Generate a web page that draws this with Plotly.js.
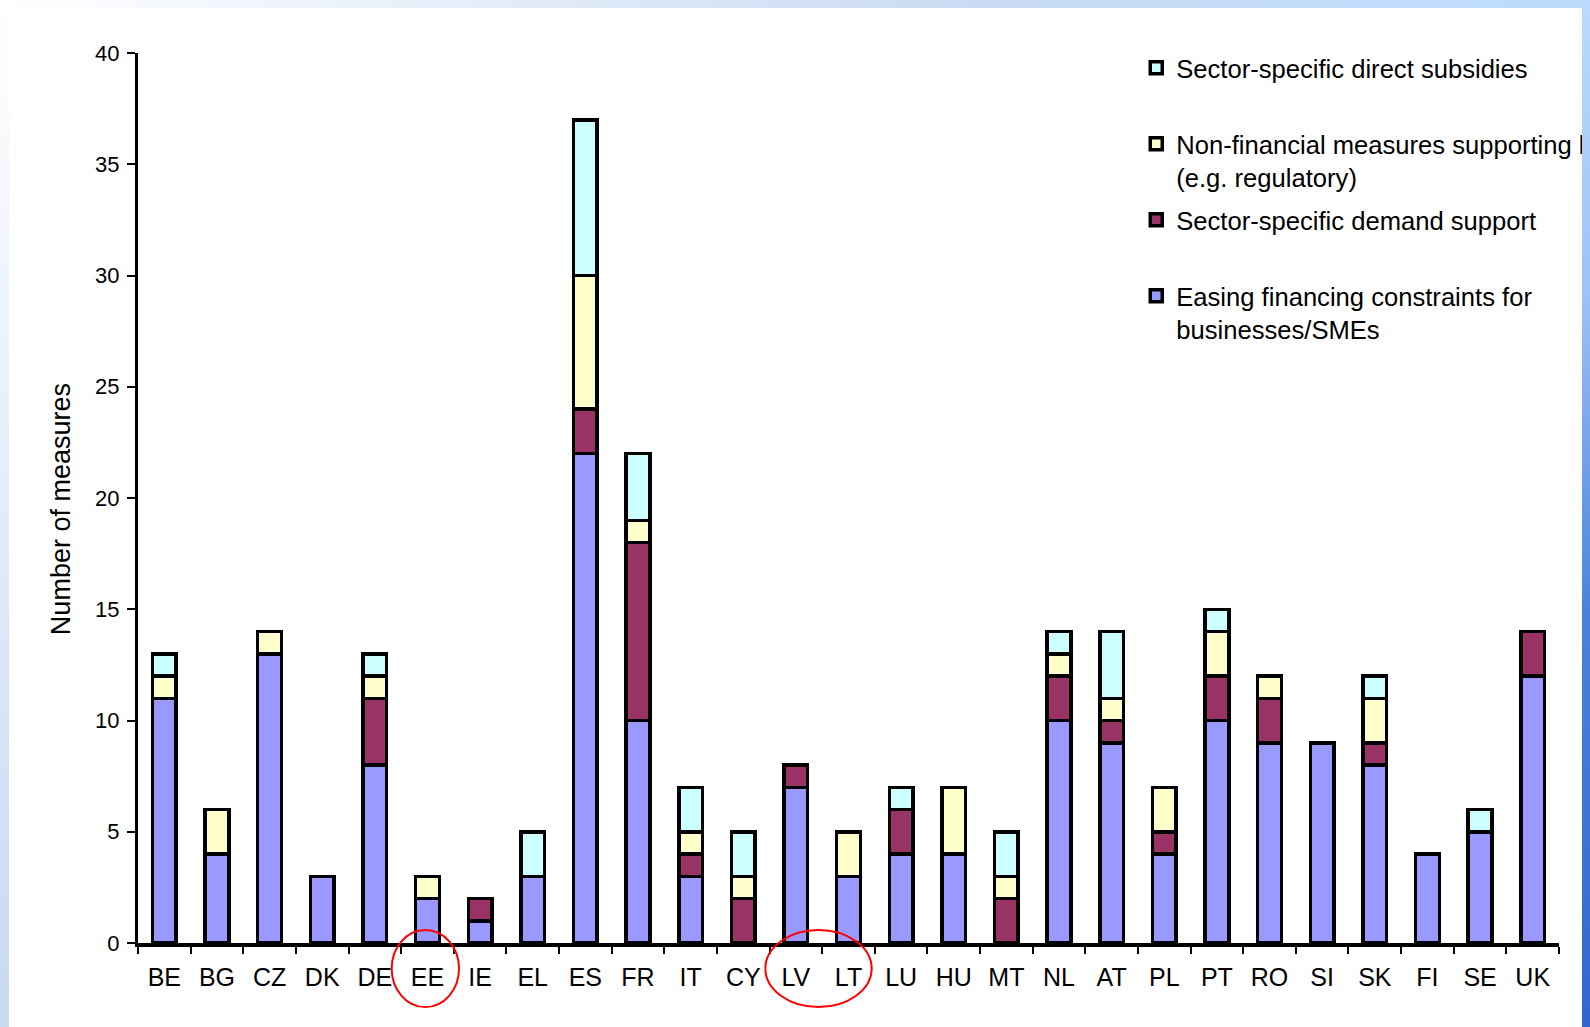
<!DOCTYPE html>
<html>
<head>
<meta charset="utf-8">
<script src="https://cdn.plot.ly/plotly-3.0.1.min.js"></script>
<style>
  html, body { margin: 0; padding: 0; }
  body {
    width: 1590px; height: 1027px; overflow: hidden; position: relative;
    background: linear-gradient(135deg, #ffffff 0%, #c8daf2 38%, #bcdcfd 60%, #9cc2f7 72%, #4a82dc 84%, #3265d2 100%);
  }
  #chart { position: absolute; left: 9px; top: 8px; width: 1573px; height: 1019px; background: #ffffff; }
</style>
</head>
<body>
<div id="chart"></div>
<script>
// Categories (countries)
const countries = ['BE','BG','CZ','DK','DE','EE','IE','EL','ES','FR','IT','CY','LV','LT','LU','HU','MT','NL','AT','PL','PT','RO','SI','SK','FI','SE','UK'];

// Series values (number of measures)
const easingFinancing = [11, 4, 13, 3, 8, 2, 1, 3, 22, 10, 3, 0, 7, 3, 4, 4, 0, 10, 9, 4, 10, 9, 9, 8, 4, 5, 12];
const demandSupport   = [ 0, 0,  0, 0, 3, 0, 1, 0,  2,  8, 1, 2, 1, 0, 2, 0, 2,  2, 1, 1,  2, 2, 0, 1, 0, 0,  2];
const nonFinancial    = [ 1, 2,  1, 0, 1, 1, 0, 0,  6,  1, 1, 1, 0, 2, 0, 3, 1,  1, 1, 2,  2, 1, 0, 2, 0, 0,  0];
const directSubsidies = [ 1, 0,  0, 0, 1, 0, 0, 2,  7,  3, 2, 2, 0, 0, 1, 0, 2,  1, 3, 0,  1, 0, 0, 1, 0, 1,  0];

// Legend labels (stacking order bottom -> top)
const seriesNames = [
  'Easing financing constraints for<br>businesses/SMEs',
  'Sector-specific demand support<br>\u00a0',
  'Non-financial measures supporting businesses<br>(e.g. regulatory)',
  'Sector-specific direct subsidies<br>\u00a0'
];
const seriesColors = ['#9999FF', '#993366', '#FFFFCC', '#CCFFFF'];
const seriesValues = [easingFinancing, demandSupport, nonFinancial, directSubsidies];

// Axis title and highlighted country labels
const yTitle = 'Number of measures';
const circledGroups = [['EE'], ['LV', 'LT']];

const traces = seriesValues.map((vals, i) => ({
  type: 'bar',
  x: countries,
  y: vals,
  name: seriesNames[i],
  legendgroup: 'g' + i,
  legendrank: seriesValues.length - i,
  marker: { color: seriesColors[i], line: { color: '#000000', width: 3.5 } },
  hoverinfo: 'x+y+name'
}));

const fontFam = '"Liberation Sans", Arial, sans-serif';

const ellipsePads = [[0.68, 0.6], [0.58, 0.44]];
const shapes = circledGroups.map((g, k) => {
  const i0 = countries.indexOf(g[0]);
  const i1 = countries.indexOf(g[g.length - 1]);
  return {
    type: 'circle', xref: 'x', yref: 'paper', layer: 'above',
    x0: i0 - ellipsePads[k][0], x1: i1 + ellipsePads[k][1],
    y0: -0.072, y1: 0.0146,
    line: { color: '#ff0000', width: 2 },
    fillcolor: 'rgba(0,0,0,0)'
  };
});

const layout = {
  width: 1573, height: 1019,
  margin: { l: 129, r: 23, t: 45, b: 84, autoexpand: false },
  paper_bgcolor: '#ffffff', plot_bgcolor: '#ffffff',
  barmode: 'stack',
  bargap: 0.55,
  showlegend: true,
  font: { family: fontFam, color: '#000000', size: 22 },
  legend: {
    x: 0.7025, y: 1.0095, xanchor: 'left', yanchor: 'top',
    traceorder: 'grouped', tracegroupgap: 6.5, valign: 'top',
    bgcolor: 'rgba(0,0,0,0)', borderwidth: 0,
    font: { family: fontFam, size: 25.6, color: '#000000' }
  },
  xaxis: {
    type: 'category',
    showline: true, linecolor: '#000000', linewidth: 4,
    ticks: 'outside', tickson: 'boundaries', ticklen: 7, tickwidth: 2, tickcolor: '#000000',
    ticklabelstandoff: 9,
    tickfont: { family: fontFam, size: 25, color: '#000000' },
    showgrid: false, zeroline: false, fixedrange: true
  },
  yaxis: {
    range: [0, 40], dtick: 5, tick0: 0,
    showline: true, linecolor: '#000000', linewidth: 3,
    ticks: 'outside', ticklen: 8, tickwidth: 2, tickcolor: '#000000',
    ticklabelstandoff: 3,
    tickfont: { family: fontFam, size: 22, color: '#000000' },
    showgrid: false, zeroline: false, fixedrange: true
  },
  annotations: [{
    text: yTitle, xref: 'paper', yref: 'paper', x: -0.0545, y: 0.487,
    xanchor: 'center', yanchor: 'middle', textangle: -90, showarrow: false,
    font: { family: fontFam, size: 27, color: '#000000' }
  }],
  shapes: shapes
};

Plotly.newPlot('chart', traces, layout, { displayModeBar: false, staticPlot: true });
</script>
</body>
</html>
